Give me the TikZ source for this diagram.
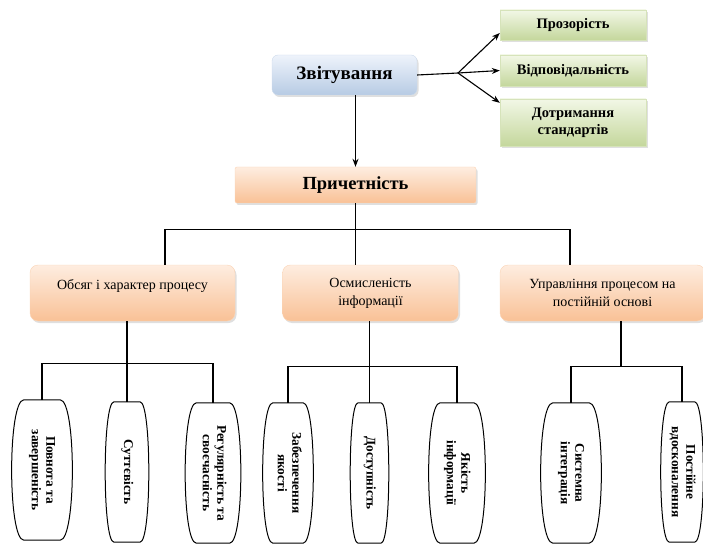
\documentclass[tikz,border=0pt]{standalone}
\usepackage{fontspec}
\setmainfont{Liberation Serif}
\usetikzlibrary{calc,arrows.meta,shadows}
\definecolor{blueTop}{HTML}{EEF3FB}
\definecolor{blueBot}{HTML}{B7CBE4}
\definecolor{greenTop}{HTML}{F2F7E6}
\definecolor{greenBot}{HTML}{C4D79C}
\definecolor{orangeTop}{HTML}{FEEDE0}
\definecolor{orangeBot}{HTML}{F9C196}
\newcommand\vtext[1]{\rotatebox{-90}{\begin{tabular}{@{}c@{}}#1\end{tabular}}}
\newcommand\barrel[1]{
  \draw[line width=1pt] let \p1=(#1.north west), \p2=(#1.south east), \n1={\x2-\x1} in
    (\x1+0.2*\n1,\y1) -- (\x2-0.2*\n1,\y1)
    .. controls (\x2+0.07*\n1,\y1) and (\x2+0.07*\n1,\y2) .. (\x2-0.2*\n1,\y2)
    -- (\x1+0.2*\n1,\y2)
    .. controls (\x1-0.07*\n1,\y2) and (\x1-0.07*\n1,\y1) .. cycle;
}

\begin{document}
\begin{tikzpicture}[x=1pt,y=-1pt,
    conn/.style={line width=1.1pt},
    arr/.style={conn,-{Stealth[length=8pt,width=6pt]}},
    soft/.style={drop shadow={opacity=0.25,shadow xshift=1.5pt,shadow yshift=-2pt}},
    topbox/.style={soft,rounded corners=6pt,draw=blueBot!70!white,top color=blueTop,bottom color=blueBot,
      minimum width=145pt,minimum height=40pt,inner sep=0pt,font=\fontsize{19}{22}\selectfont\bfseries},
    greenbox/.style={soft,draw=greenBot!70!white,top color=greenTop,bottom color=greenBot,
      minimum width=146pt,inner sep=0pt,align=center,font=\fontsize{14.5}{17}\selectfont\bfseries},
    midbox/.style={soft,rounded corners=2pt,draw=orangeBot!70!white,top color=orangeTop,bottom color=orangeBot,
      minimum width=241pt,minimum height=36pt,inner sep=0pt,font=\fontsize{18.5}{22}\selectfont\bfseries},
    catbox/.style={soft,rounded corners=8pt,draw=orangeBot!70!white,top color=orangeTop,bottom color=orangeBot,
      minimum height=56pt,inner sep=0pt,align=center,font=\fontsize{14}{18}\selectfont},
    leaf/.style={minimum height=140pt,inner sep=0pt,font=\fontsize{13.3}{14.5}\selectfont\bfseries}]

  \useasboundingbox (0,0) rectangle (703,545);

  % top part
  \node[topbox] (zvit) at (344.5,75) {Звітування};
  \node[greenbox,minimum height=30pt] (proz) at (573,25) {Прозорість};
  \node[greenbox,minimum height=31pt] (vidp) at (573,70.5) {Відповідальність};
  \node[greenbox,minimum height=47pt] (dotr) at (573,122.5) {Дотримання\\стандартів};
  \coordinate (fork) at (458,73);
  \draw[conn] (zvit.east) -- (fork);
  \draw[arr] (fork) -- ([yshift=-8pt]proz.west);
  \draw[arr] (fork) -- (vidp.west);
  \draw[arr] (fork) -- ([yshift=-4pt]dotr.north west);

  \node[midbox] (prych) at (355.5,185) {Причетність};
  \draw[arr] (zvit.south -| prych.north) -- (prych.north);

  % second level
  \node[catbox,minimum width=205pt] (obs) at (132.5,293) {Обсяг і характер процесу\\\mbox{}};
  \node[catbox,minimum width=176pt] (osm) at (370.5,293) {Осмисленість\\інформації};
  \node[catbox,minimum width=205pt] (upr) at (602.5,293) {Управління процесом на\\постійній основі};
  \draw[conn] (prych.south) -- (prych.south |- osm.north);
  \draw[conn] ([xshift=32.5pt]obs.north) -- ++(0,-35) -| ([xshift=-32.5pt]upr.north);

  % leaves
  \node[leaf,minimum width=60pt] (povn) at (42,470) {\vtext{Повнота та\\завершеність}};
  \node[leaf,minimum width=43pt] (sutt) at (127,472) {\vtext{Суттєвість}};
  \node[leaf,minimum width=55pt] (regl) at (213,473) {\vtext{Регулярність та\\своєчасність}};
  \node[leaf,minimum width=50pt] (zabz) at (288,473) {\vtext{Забезпечення\\якості}};
  \node[leaf,minimum width=38pt] (dost) at (369.5,473) {\vtext{Доступність}};
  \node[leaf,minimum width=56pt] (yaki) at (457,473) {\vtext{Якість\\інформації}};
  \node[leaf,minimum width=60pt] (syst) at (571,473) {\vtext{Системна\\інтеграція}};
  \node[leaf,minimum width=42pt] (post) at (682,472) {\vtext{Постійне\\вдосконалення}};
  \foreach \leafname in {povn,sutt,regl,zabz,dost,yaki,syst,post}
    \barrel{\leafname};

  \draw[conn] (obs.south -| sutt.north) -- (sutt.north);
  \draw[conn] (povn.north) -- ++(0,-36) -| (regl.north);
  \draw[conn] (osm.south -| dost.north) -- (dost.north);
  \draw[conn] (zabz.north) -- ++(0,-36) -| (yaki.north);
  \draw[conn] ([xshift=18.5pt]upr.south) -- ++(0,46);
  \draw[conn] (syst.north) -- ++(0,-36) -| (post.north);

\end{tikzpicture}
\end{document}
